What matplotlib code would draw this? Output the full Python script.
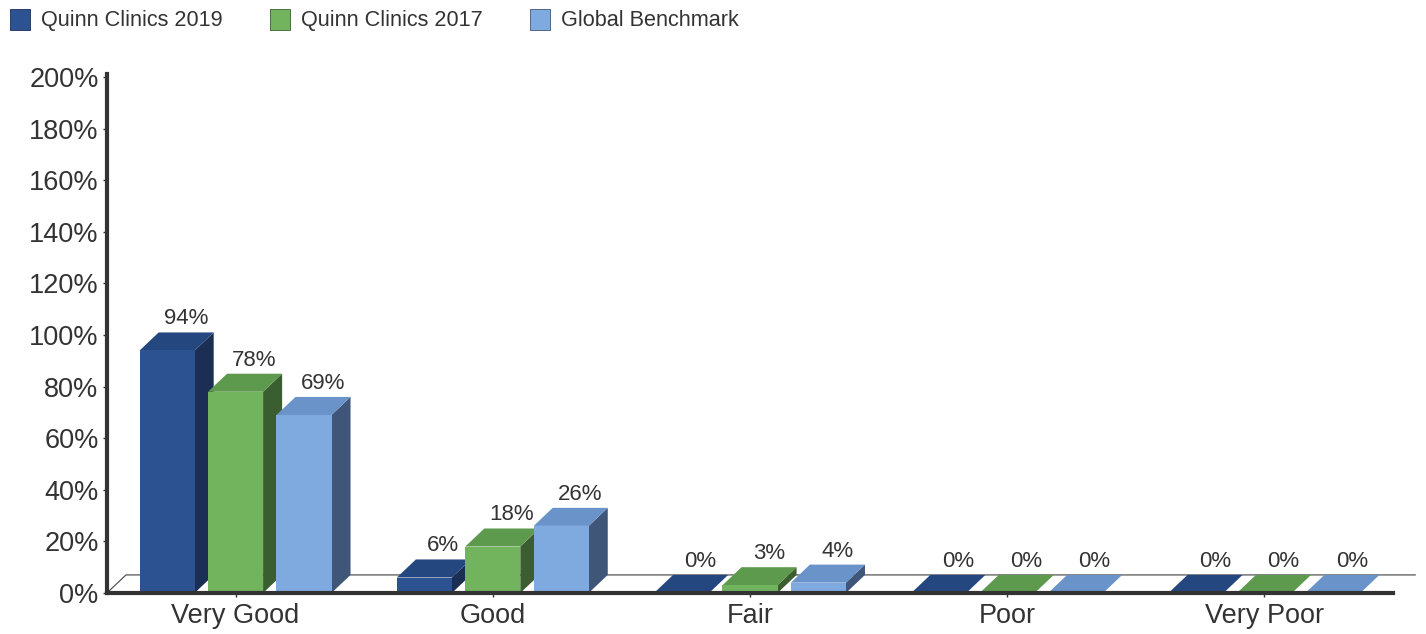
import matplotlib.pyplot as plt
from matplotlib.patches import Polygon, Patch
import numpy as np

plt.rcParams['font.family'] = ['Liberation Sans', 'DejaVu Sans']

categories = ['Very Good', 'Good', 'Fair', 'Poor', 'Very Poor']
series = ['Quinn Clinics 2019', 'Quinn Clinics 2017', 'Global Benchmark']
q2019 = [94, 6, 0, 0, 0]
q2017 = [78, 18, 3, 0, 0]
bench = [69, 26, 4, 0, 0]
values = [q2019, q2017, bench]

# front, top, side colours per series
front = ['#2c5291', '#72b35e', '#7faae0']
top = ['#25477f', '#5e9a4d', '#6a93c9']
side = ['#1b2f55', '#3b5e30', '#3f5678']

width = 0.214
step = 0.266
ddx = 0.074   # depth in x (category units)
ddy = 7.0     # depth in y (percent units)

fig = plt.figure(figsize=(14.26, 6.34), dpi=100)
ax = fig.add_axes([0.075, 0.0647, 0.9019, 0.8138])

x = np.arange(len(categories))

# floor
ax.plot([-0.5, -0.5 + ddx, 4.5 + ddx + 0.012], [0, ddy, ddy], color='#555555',
        lw=0.9, zorder=1, clip_on=False)

z = 2
for gi in range(len(categories)):
    for si in range(len(series)):
        v = values[si][gi]
        x0 = x[gi] + (si - 1) * step - width / 2
        x1 = x0 + width
        ax.bar(x0, v, width=width, align='edge', color=front[si], zorder=z + 2)
        ax.add_patch(Polygon([(x0, v), (x1, v), (x1 + ddx, v + ddy), (x0 + ddx, v + ddy)],
                             closed=True, facecolor=top[si], edgecolor='none', zorder=z + 1))
        if v > 0:
            ax.add_patch(Polygon([(x1, 0), (x1 + ddx, ddy), (x1 + ddx, v + ddy), (x1, v)],
                                 closed=True, facecolor=side[si], edgecolor='none', zorder=z))
        ax.text(x0 + width / 2 + ddx, v + ddy + 1.2, f'{v}%', ha='center', va='bottom',
                fontsize=16, color='#333333', zorder=20)
        z += 3

ax.set_xlim(-0.5, 4.5)
ax.set_ylim(0, 200)
ax.set_yticks(np.arange(0, 201, 20))
ax.set_yticklabels([f'{t}%' for t in range(0, 201, 20)])
ax.set_xticks(x)
ax.set_xticklabels(categories)
ax.tick_params(axis='y', labelsize=19.5, colors='#333333', length=3, width=1, pad=3)
ax.tick_params(axis='x', labelsize=19.5, colors='#333333', length=3, width=1, pad=4)

for s in ['top', 'right']:
    ax.spines[s].set_visible(False)
ax.spines['left'].set_linewidth(3)
ax.spines['left'].set_color('#333333')
ax.spines['left'].set_bounds(0, 201)
ax.spines['bottom'].set_linewidth(3)
ax.spines['bottom'].set_color('#333333')
ax.spines['left'].set_zorder(50)
ax.spines['bottom'].set_zorder(50)

handles = [Patch(facecolor=front[i], edgecolor=side[i], lw=0.6) for i in range(3)]
fig.legend(handles, series, loc='upper left', bbox_to_anchor=(-0.0066, 1.017), ncol=3,
           frameon=False, fontsize=15.6, handlelength=0.92, handleheight=1.1,
           handletextpad=0.5, columnspacing=2.2, labelcolor='#333333')

fig.savefig('out.png', dpi=100)
